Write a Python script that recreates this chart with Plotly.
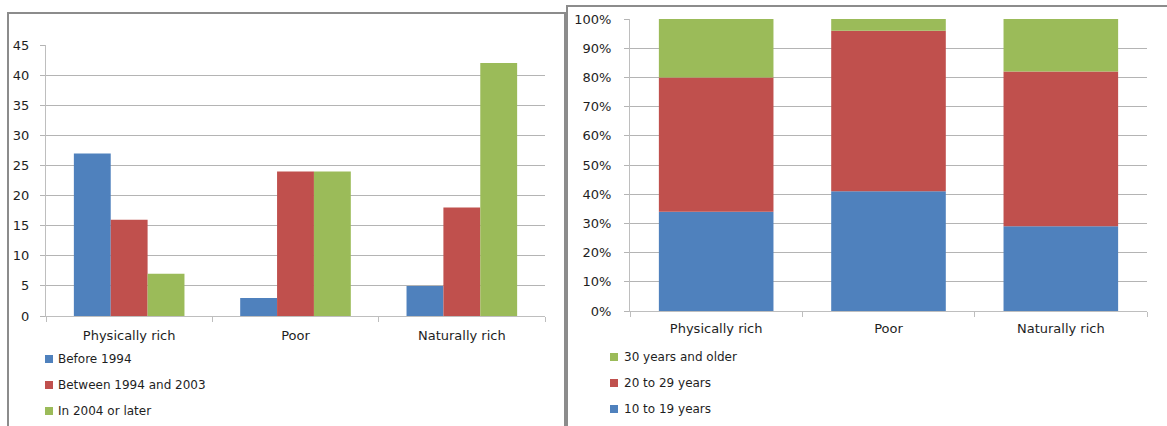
import plotly.graph_objects as go

W, H = 1167, 426

# --- data -------------------------------------------------------------
categories = ["Physically rich", "Poor", "Naturally rich"]

period_names = ["Before 1994", "Between 1994 and 2003", "In 2004 or later"]
before_1994 = [27, 3, 5]
between_1994_2003 = [16, 24, 18]
from_2004 = [7, 24, 42]

age_names = ["10 to 19 years", "20 to 29 years", "30 years and older"]
age_10_19 = [34, 41, 29]
age_20_29 = [46, 55, 53]
age_30_plus = [20, 4, 18]

colors = ["#4F81BD", "#C0504D", "#9BBB59"]

FONT = "DejaVu Sans"
TEXT = "#1E1E1E"
GRID = "#B4B4B4"
AXIS = "#BEBEBE"


def px_x(v):
    return v / W


def px_y(v):
    return 1 - v / H


fig = go.Figure()

# left chart: grouped bars, one offset group per period
period_series = [before_1994, between_1994_2003, from_2004]
for i, (name, vals) in enumerate(zip(period_names, period_series)):
    fig.add_trace(go.Bar(
        x=categories, y=vals, name=name, marker_color=colors[i],
        marker_line_width=0, offsetgroup=f"p{i}", alignmentgroup="left",
        xaxis="x", yaxis="y", showlegend=False,
    ))

# right chart: 100% stacked bars
age_series = [age_10_19, age_20_29, age_30_plus]
for i, (name, vals) in enumerate(zip(age_names, age_series)):
    fig.add_trace(go.Bar(
        x=categories, y=vals, name=name, marker_color=colors[i],
        marker_line_width=0, offsetgroup="stack", alignmentgroup="right",
        xaxis="x2", yaxis="y2", showlegend=False,
    ))

tick_font = dict(family=FONT, size=13, color=TEXT)

# legend keys: small square + label, one row per series
shapes = [
    dict(type="rect", xref="paper", yref="paper",
         x0=px_x(8), x1=px_x(565), y0=px_y(440), y1=px_y(13),
         line=dict(color="#8C8C8C", width=2), layer="below"),
    dict(type="rect", xref="paper", yref="paper",
         x0=px_x(567), x1=px_x(1180), y0=px_y(440), y1=px_y(6),
         line=dict(color="#8C8C8C", width=2), layer="below"),
]
annotations = []


def add_legend(names, cols, sq_left, text_left, row_top, row_step):
    for k, (name, col) in enumerate(zip(names, cols)):
        yc = row_top + k * row_step
        shapes.append(dict(
            type="rect", xref="paper", yref="paper",
            x0=px_x(sq_left), x1=px_x(sq_left + 8),
            y0=px_y(yc + 4), y1=px_y(yc - 4),
            fillcolor=col, line=dict(width=0),
        ))
        annotations.append(dict(
            xref="paper", yref="paper", x=px_x(text_left), y=px_y(yc),
            xanchor="left", yanchor="middle", showarrow=False, text=name,
            font=dict(family=FONT, size=12, color=TEXT), borderpad=0,
        ))


add_legend(period_names, colors, 45, 57, 359, 26)
add_legend(age_names[::-1], colors[::-1], 610, 623, 357, 26)

fig.update_layout(
    width=W, height=H,
    margin=dict(l=0, r=0, t=0, b=0, autoexpand=False),
    paper_bgcolor="white", plot_bgcolor="white",
    barmode="relative", bargap=0.335, bargroupgap=0,
    showlegend=False,
    font=dict(family=FONT, size=12, color=TEXT),
    xaxis=dict(
        domain=[px_x(46), px_x(545)], anchor="y", automargin=False,
        showline=True, linecolor=AXIS, linewidth=1,
        ticks="outside", tickson="boundaries", ticklen=5, tickcolor=AXIS,
        tickfont=tick_font, showgrid=False, ticklabelstandoff=7,
    ),
    yaxis=dict(
        domain=[px_y(316), px_y(45)], anchor="x", automargin=False,
        range=[0, 45], dtick=5,
        showline=True, linecolor=AXIS, linewidth=1,
        ticks="outside", ticklen=5, tickcolor=GRID,
        showgrid=True, gridcolor=GRID, gridwidth=1, zeroline=False,
        tickfont=tick_font, ticklabelstandoff=8,
    ),
    xaxis2=dict(
        domain=[px_x(630), px_x(1147)], anchor="y2", automargin=False,
        showline=True, linecolor=AXIS, linewidth=1,
        ticks="outside", tickson="boundaries", ticklen=5, tickcolor=AXIS,
        tickfont=tick_font, showgrid=False, ticklabelstandoff=5,
    ),
    yaxis2=dict(
        domain=[px_y(311), px_y(19)], anchor="x2", automargin=False,
        range=[0, 100], dtick=10, ticksuffix="%",
        showline=True, linecolor=AXIS, linewidth=1,
        ticks="outside", ticklen=5, tickcolor=GRID,
        showgrid=True, gridcolor=GRID, gridwidth=1, zeroline=False,
        tickfont=tick_font, ticklabelstandoff=10,
    ),
    shapes=shapes,
    annotations=annotations,
)

fig.write_html("out.html")
